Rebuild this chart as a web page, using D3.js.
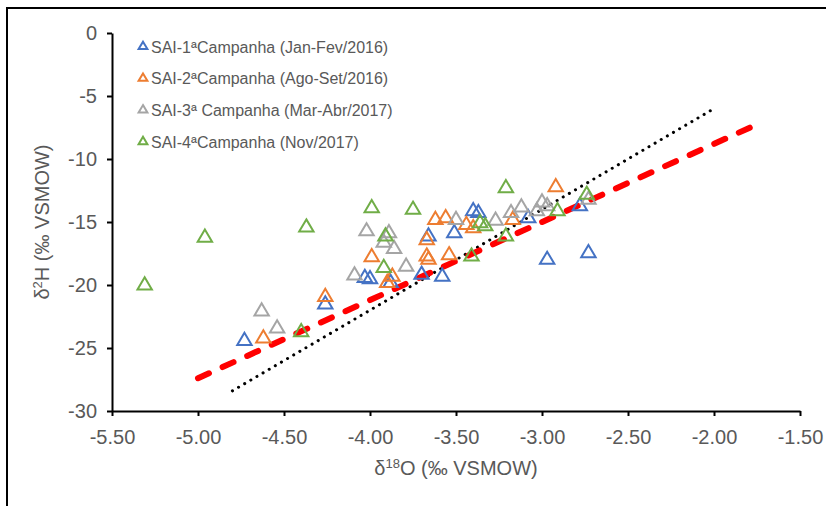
<!DOCTYPE html>
<html>
<head>
<meta charset="utf-8">
<script src="https://cdn.jsdelivr.net/npm/d3@7"></script>
<style>
  body { margin: 0; background: #fff; }
  text { font-family: "Liberation Sans", Arial, sans-serif; fill: #595959; }
</style>
</head>
<body>
<div id="container"></div>
<script>
// isotope data per campaign (d18O, d2H)
var series = ["SAI-1ªCampanha (Jan-Fev/2016)", "SAI-2ªCampanha (Ago-Set/2016)",
              "SAI-3ª Campanha (Mar-Abr/2017)", "SAI-4ªCampanha (Nov/2017)"];
var colors = ["#4472C4", "#ED7D31", "#A5A5A5", "#70AD47"];

var o18_1 = [-4.73, -4.26, -4.03, -4.00, -3.88, -3.70, -3.58, -3.66, -3.51, -3.40, -3.37, -3.08, -2.97, -2.73, -2.78];
var h2_1  = [-24.3, -21.4, -19.3, -19.4, -19.7, -19.05, -19.2, -16.0, -15.75, -14.0, -14.15, -14.55, -17.86, -17.33, -13.6];

var o18_2 = [-4.62, -4.26, -3.99, -3.87, -3.90, -3.67, -3.67, -3.66, -3.54, -3.62, -3.56, -3.44, -3.40, -3.17, -2.92];
var h2_2  = [-24.1, -20.8, -17.65, -19.2, -19.7, -16.3, -17.6, -17.86, -17.5, -14.7, -14.55, -15.1, -15.35, -14.7, -12.1];

var o18_3 = [-4.63, -4.54, -4.09, -4.02, -3.89, -3.92, -3.86, -3.79, -3.50, -3.27, -3.18, -3.12, -3.03, -3.00, -2.97, -2.73];
var h2_3  = [-21.96, -23.3, -19.1, -15.6, -15.75, -16.5, -17.0, -18.4, -14.7, -14.76, -14.15, -13.7, -14.0, -13.3, -13.6, -13.1];

var o18_4 = [-5.31, -4.96, -4.37, -4.40, -3.99, -3.75, -3.91, -3.92, -3.36, -3.33, -3.21, -3.21, -3.41, -2.91, -2.74];
var h2_4  = [-19.9, -16.1, -15.3, -23.6, -13.76, -13.89, -16.0, -18.5, -14.95, -15.2, -12.17, -16.0, -17.6, -14.0, -12.7];

// reference lines: global (GMWL) and local meteoric water line
var gmwlX = [-4.8, -2.02];
var gmwlY = [-28.4, -6.16];
var lmwlX = [-5.0, -1.79];
var lmwlY = [-27.4, -7.5];

var xTicks = [-5.5, -5.0, -4.5, -4.0, -3.5, -3.0, -2.5, -2.0, -1.5];
var yTicks = [0, -5, -10, -15, -20, -25, -30];

var width = 826, height = 506;

var svg = d3.select("#container").append("svg")
  .attr("width", width)
  .attr("height", height);

// outer frame of the chart area
svg.append("rect")
  .attr("x", 7).attr("y", 8)
  .attr("width", 840).attr("height", 520)
  .attr("fill", "none")
  .attr("stroke", "#000")
  .attr("stroke-width", 2);

var x = d3.scaleLinear().domain([-5.5, -1.5]).range([112, 800]);
var y = d3.scaleLinear().domain([-30, 0]).range([411, 33]);

// axes
var xAxis = svg.append("g")
  .attr("transform", "translate(0," + y(-30) + ")")
  .call(d3.axisBottom(x).tickValues(xTicks).tickSize(5).tickSizeOuter(0).tickPadding(14)
    .tickFormat(function(d) { return d.toFixed(2); }));

var yAxis = svg.append("g")
  .attr("transform", "translate(" + x(-5.5) + ",0)")
  .call(d3.axisLeft(y).tickValues(yTicks).tickSize(5).tickSizeOuter(0).tickPadding(10)
    .tickFormat(function(d) { return String(d); }));

[xAxis, yAxis].forEach(function(a) {
  a.select(".domain").attr("stroke", "#000").attr("stroke-width", 2);
  a.selectAll(".tick line").attr("stroke", "#000").attr("stroke-width", 2);
  a.selectAll(".tick text").style("font-size", "20px").attr("fill", "#595959");
});

// meteoric water lines
var line = d3.line().x(function(d) { return x(d[0]); }).y(function(d) { return y(d[1]); });

svg.append("path")
  .datum(d3.zip(gmwlX, gmwlY))
  .attr("d", line)
  .attr("fill", "none")
  .attr("stroke", "#000")
  .attr("stroke-width", 3)
  .attr("stroke-linecap", "round")
  .attr("stroke-dasharray", "0.1 7");

svg.append("path")
  .datum(d3.zip(lmwlX, lmwlY))
  .attr("d", line)
  .attr("fill", "none")
  .attr("stroke", "#FF0000")
  .attr("stroke-width", 6)
  .attr("stroke-linecap", "round")
  .attr("stroke-dasharray", "12 15");

// open triangle markers
var tri = "M0,-6.4L7.2,5.8L-7.2,5.8Z";
var allX = [o18_1, o18_2, o18_3, o18_4];
var allY = [h2_1, h2_2, h2_3, h2_4];

allX.forEach(function(xs, i) {
  svg.append("g").selectAll("path")
    .data(d3.zip(xs, allY[i]))
    .enter().append("path")
    .attr("d", tri)
    .attr("transform", function(d) { return "translate(" + x(d[0]) + "," + y(d[1]) + ")"; })
    .attr("fill", "none")
    .attr("stroke", colors[i])
    .attr("stroke-width", 2);
});

// legend
var legend = svg.append("g").selectAll("g")
  .data(series)
  .enter().append("g")
  .attr("transform", function(d, i) { return "translate(143," + (45.5 + i * 31.7) + ")"; });

legend.append("path")
  .attr("d", "M0,-3.8L4.4,3.6L-4.4,3.6Z")
  .attr("fill", "none")
  .attr("stroke", function(d, i) { return colors[i]; })
  .attr("stroke-width", 2);

legend.append("text")
  .attr("x", 8)
  .attr("y", 7)
  .style("font-size", "16px")
  .text(function(d) { return d; });

// axis titles
var xTitle = svg.append("text")
  .attr("x", 456)
  .attr("y", 475)
  .attr("text-anchor", "middle")
  .style("font-size", "20px");
xTitle.append("tspan").text("δ");
xTitle.append("tspan").attr("dy", -7).style("font-size", "13px").text("18");
xTitle.append("tspan").attr("dy", 7).text("O (‰ VSMOW)");

var yTitle = svg.append("text")
  .attr("transform", "translate(49,222) rotate(-90)")
  .attr("text-anchor", "middle")
  .style("font-size", "20px");
yTitle.append("tspan").text("δ");
yTitle.append("tspan").attr("dy", -7).style("font-size", "13px").text("2");
yTitle.append("tspan").attr("dy", 7).text("H (‰ VSMOW)");
</script>
</body>
</html>
